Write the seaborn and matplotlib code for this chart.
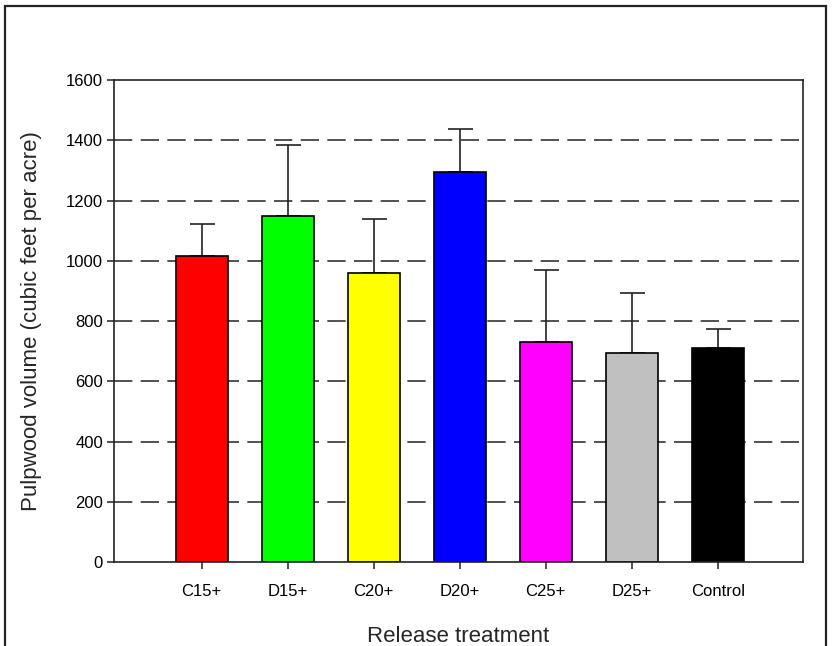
import numpy as np
import pandas as pd
import matplotlib
matplotlib.use("Agg")
import matplotlib.pyplot as plt
import matplotlib.patches as mpatches
import seaborn as sns

# data
treatments = ["C15+", "D15+", "C20+", "D20+", "C25+", "D25+", "Control"]
volume = [1016, 1148, 958, 1295, 730, 693, 710]
upper_err = [106, 236, 180, 142, 240, 200, 63]
colors = ["#ff0000", "#00ff00", "#ffff00", "#0000ff", "#ff00ff", "#c0c0c0", "#000000"]

df = pd.DataFrame({"treatment": treatments, "volume": volume})

sns.set_style("ticks")
plt.rcParams["font.family"] = ["Liberation Sans", "DejaVu Sans"]

fig = plt.figure(figsize=(8.36, 6.46), dpi=100)
ax = fig.add_axes([114 / 836, 1 - 562 / 646, (803 - 114) / 836, (562 - 80) / 646])

# dashed grid behind the bars
for yv in range(200, 1600, 200):
    ax.axhline(yv, color="#333333", lw=1.2, ls=(0, (11, 5)), zorder=0)

sns.barplot(data=df, x="treatment", y="volume", hue="treatment", palette=colors,
            legend=False, width=0.61, edgecolor="black", linewidth=1.2,
            saturation=1, errorbar=None, ax=ax, zorder=2)

ax.errorbar(np.arange(len(treatments)), volume,
            yerr=[np.zeros(len(volume)), upper_err],
            fmt="none", ecolor="#222222", elinewidth=1.2, capsize=9, capthick=1.2, zorder=1)

ax.set_xlim(-1.02, 6.99)
ax.set_ylim(0, 1600)
ax.set_yticks(range(0, 1601, 200))
for s in ax.spines.values():
    s.set_visible(True)
    s.set_linewidth(1.2)
    s.set_color("#222222")
ax.tick_params(axis="both", direction="out", length=5, width=1.1, labelsize=12, colors="#222222")
ax.tick_params(axis="x", pad=11)
ax.tick_params(axis="y", pad=3)
for lab in ax.get_xticklabels() + ax.get_yticklabels():
    lab.set_color("black")

ax.set_xlabel("Release treatment", fontsize=16, labelpad=19)
ax.set_ylabel("Pulpwood volume (cubic feet per acre)", fontsize=16, labelpad=17)

# outer frame
fig.patches.append(mpatches.Rectangle((5 / 836, -0.05), (826 - 5) / 836, 1.05 - 6 / 646,
                                      transform=fig.transFigure, fill=False,
                                      edgecolor="#222222", lw=1.6))

fig.savefig("out.png", dpi=100)
